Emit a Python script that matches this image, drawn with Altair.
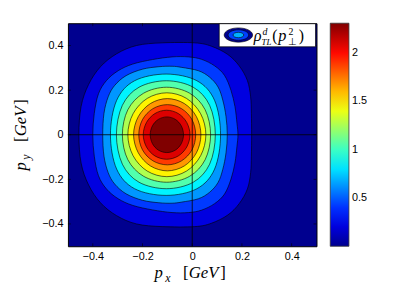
import altair as alt
import pandas as pd

# ---- data (contour boundaries, upper half; mirrored in y) ----
L1_x = [-0.456, -0.447, -0.417, -0.369, -0.304, -0.224, -0.121, 0.010, 0.077, 0.143, 0.189, 0.222, 0.235, 0.238, 0.239]
L1_y = [0.0, 0.127, 0.225, 0.305, 0.363, 0.400, 0.412, 0.412, 0.397, 0.360, 0.309, 0.243, 0.170, 0.096, 0.0]
L2_x = [-0.400, -0.394, -0.377, -0.345, -0.298, -0.239, -0.160, -0.081, -0.015, 0.038, 0.090, 0.130, 0.156, 0.172, 0.180, 0.184]
L2_y = [0.0, 0.096, 0.184, 0.243, 0.287, 0.317, 0.337, 0.349, 0.349, 0.338, 0.309, 0.266, 0.199, 0.126, 0.052, 0.0]
L3_x = [-0.360, -0.355, -0.338, -0.312, -0.266, -0.200, -0.134, -0.081, -0.042, 0.025, 0.070, 0.104, 0.123, 0.136, 0.141]
L3_y = [0.0, 0.096, 0.170, 0.221, 0.265, 0.294, 0.305, 0.307, 0.302, 0.287, 0.258, 0.214, 0.155, 0.081, 0.0]
L4_x = [-0.329, -0.304, -0.232, -0.105, 0.019, 0.090, 0.114]
L4_y = [0.0, 0.154, 0.242, 0.272, 0.242, 0.154, 0.0]
L5_x = [-0.305, -0.281, -0.214, -0.104, 0.004, 0.070, 0.093]
L5_y = [0.0, 0.132, 0.213, 0.242, 0.213, 0.132, 0.0]
L6_x = [-0.281, -0.259, -0.196, -0.103, -0.010, 0.052, 0.074]
L6_y = [0.0, 0.112, 0.186, 0.213, 0.186, 0.112, 0.0]
L7_x = [-0.259, -0.238, -0.181, -0.102, -0.023, 0.034, 0.055]
L7_y = [0.0, 0.094, 0.163, 0.188, 0.163, 0.094, 0.0]
L8_x = [-0.236, -0.217, -0.168, -0.100, -0.032, 0.017, 0.035]
L8_y = [0.0, 0.081, 0.140, 0.162, 0.140, 0.081, 0.0]
L9_x = [-0.215, -0.200, -0.158, -0.100, -0.043, -0.001, 0.014]
L9_y = [0.0, 0.068, 0.117, 0.135, 0.117, 0.068, 0.0]
L10_x = [-0.197, -0.184, -0.150, -0.103, -0.056, -0.022, -0.009]
L10_y = [0.0, 0.055, 0.095, 0.110, 0.095, 0.055, 0.0]
L11_x = [-0.169, -0.160, -0.136, -0.102, -0.068, -0.044, -0.035]
L11_y = [0.0, 0.040, 0.069, 0.080, 0.069, 0.040, 0.0]

region_values = [0.21, 0.42, 0.63, 0.84, 1.05, 1.26, 1.47, 1.68, 1.89, 2.10, 2.31]
tick_values = [-0.4, -0.2, 0, 0.2, 0.4]
cbar_ticks = [0.5, 1, 1.5, 2]
jet_domain = [0, 0.289, 0.866, 1.444, 2.021, 2.31]
jet_colors = ['#00008f', '#0000ff', '#00ffff', '#ffff00', '#ff0000', '#800000']

contours = [(L1_x, L1_y), (L2_x, L2_y), (L3_x, L3_y), (L4_x, L4_y), (L5_x, L5_y),
            (L6_x, L6_y), (L7_x, L7_y), (L8_x, L8_y), (L9_x, L9_y), (L10_x, L10_y), (L11_x, L11_y)]

rows = []
for k, ((xs, ys), v) in enumerate(zip(contours, region_values), start=1):
    pts = list(zip(xs, ys))
    loop = pts + [(x, -y) for x, y in reversed(pts[1:-1])]
    for i, (x, y) in enumerate(loop):
        rows.append({'k': k, 'i': i, 'x': x, 'y': y, 'v': v})
df = pd.DataFrame(rows)
one = pd.DataFrame({'d': [0]})
tdf = pd.DataFrame({'t': tick_values})

W, H = 253, 227

jet = alt.Scale(domain=jet_domain, range=jet_colors, interpolate='rgb')
leg = alt.Legend(title=None, orient='none', legendX=267, legendY=0, direction='vertical',
                 gradientLength=H, gradientThickness=19, values=cbar_ticks, format='~g',
                 labelFont='Liberation Sans', labelFontSize=11, labelColor='black',
                 gradientStrokeColor='#333', gradientStrokeWidth=0.8, labelOffset=3,
                 labelOverlap=False)

xax = alt.Axis(values=tick_values, format='~g', ticks=False, domain=False, grid=False,
               labelFont='Liberation Sans', labelFontSize=11, labelColor='black', labelPadding=5)
yax = alt.Axis(values=tick_values, format='~g', ticks=False, domain=False, grid=False,
               labelFont='Liberation Sans', labelFontSize=11, labelColor='black', labelPadding=5)

base = alt.Chart(df).mark_line(interpolate='cardinal-closed', stroke='black', strokeWidth=0.6).encode(
    x=alt.X('x:Q', scale=alt.Scale(domain=[-0.5, 0.5], nice=False, zero=False), axis=xax, title=None),
    y=alt.Y('y:Q', scale=alt.Scale(domain=[-0.5, 0.5], nice=False, zero=False), axis=yax, title=None),
    order=alt.Order('i:Q'),
    fill=alt.Fill('v:Q', scale=jet, legend=leg),
)
layers = [base.transform_filter(alt.datum.k == k) for k in range(1, 12)]

# zero lines
layers.append(alt.Chart(one).mark_rule(color='black', strokeWidth=0.8).encode(x=alt.datum(0)))
layers.append(alt.Chart(one).mark_rule(color='black', strokeWidth=0.8).encode(y=alt.datum(0)))

# inward ticks
tk = dict(color='black', strokeWidth=0.6)
layers.append(alt.Chart(tdf).mark_rule(**tk).encode(x='t:Q', y=alt.value(H), y2=alt.value(H - 3)))
layers.append(alt.Chart(tdf).mark_rule(**tk).encode(x='t:Q', y=alt.value(0), y2=alt.value(3)))
layers.append(alt.Chart(tdf).mark_rule(**tk).encode(y='t:Q', x=alt.value(0), x2=alt.value(3)))
layers.append(alt.Chart(tdf).mark_rule(**tk).encode(y='t:Q', x=alt.value(W), x2=alt.value(W - 3)))

# legend box
layers.append(alt.Chart(one).mark_rect(fill='white', stroke='black', strokeWidth=0.7).encode(
    x=alt.value(154), x2=alt.value(252), y=alt.value(0.5), y2=alt.value(24)))
ell = 'M -1 0 A 1 0.5 0 1 0 1 0 A 1 0.5 0 1 0 -1 0 Z'
for size, col in [(841, '#00008f'), (441, '#0040ff'), (121, '#00b0ff')]:
    layers.append(alt.Chart(one).mark_point(shape=ell, filled=True, fill=col, stroke='black',
                                            strokeWidth=0.6, size=size, opacity=1).encode(
        x=alt.value(173.5), y=alt.value(12)))


def frag(txt, x, y, size, italic=True, angle=0):
    return alt.Chart(one).mark_text(text=txt, font='Liberation Serif', fontSize=size,
                                    fontStyle='italic' if italic else 'normal', align='left',
                                    baseline='alphabetic', angle=angle, color='black').encode(
        x=alt.value(x), y=alt.value(y))


# legend label rho^d_TL(p_perp^2)
layers += [
    frag('ρ', 189, 18, 16.5),
    frag('d', 198, 12, 10),
    frag('TL', 197, 22, 9),
    frag('(', 208, 18.5, 16, italic=False),
    frag('p', 214, 18, 16.5),
    frag('2', 224.5, 12, 10, italic=False),
    frag('⊥', 223.5, 22, 10, italic=False),
    frag(')', 235, 18.5, 16, italic=False),
]

# x axis title p_x [GeV]
layers += [
    frag('p', 88, 259, 17),
    frag('x', 99, 263, 12),
    frag('[', 117, 259, 17, italic=False),
    frag('GeV', 123, 259, 17),
    frag(']', 155, 259, 17, italic=False),
]
# y axis title p_y [GeV] (rotated)
layers += [
    frag('p', -43, 150, 17, angle=270),
    frag('y', -39, 139, 12, angle=270),
    frag('[', -43, 121, 17, italic=False, angle=270),
    frag('GeV', -43, 115, 17, angle=270),
    frag(']', -43, 83, 17, italic=False, angle=270),
]

chart = alt.layer(*layers).properties(
    width=W, height=H,
    autosize=alt.AutoSizeParams(type='none'),
    padding={'left': 61, 'top': 13, 'right': 86, 'bottom': 40},
).configure_view(fill='#00008f', stroke='black', strokeWidth=1)

chart.save('out.html', embed_options={'renderer': 'svg', 'actions': False})
